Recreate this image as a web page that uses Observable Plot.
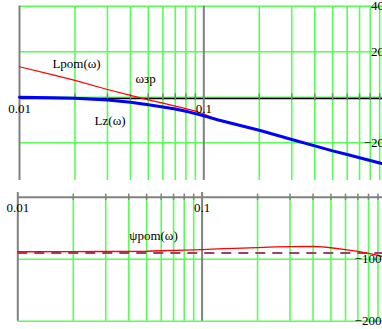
<!DOCTYPE html>
<html>
<head>
<meta charset="utf-8">
<script src="https://cdn.jsdelivr.net/npm/d3@7"></script>
<script src="https://cdn.jsdelivr.net/npm/@observablehq/plot@0.6"></script>
<style>
  html, body { margin: 0; padding: 0; background: white; overflow: hidden; }
  .panel { width: 382px; overflow: hidden; }
  .panel svg { display: block; overflow: hidden; }
</style>
</head>
<body>
<div id="panelTop" class="panel" style="height:190px"></div>
<div id="panelBottom" class="panel" style="height:139px"></div>
<script>
// ---- data ----
const omega = [0.01, 0.015, 0.02, 0.03, 0.04, 0.05, 0.06, 0.07, 0.08, 0.09, 0.1, 0.12, 0.15, 0.2, 0.3, 0.4, 0.5, 0.6, 0.7, 0.8, 0.9, 1.0];
const Lpom  = [13.4, 9.9, 7.4, 3.4, 0.8, -1.2, -2.6, -3.9, -5.0, -6.1, -7.4, -9.9, -12.0, -14.5, -18.6, -21.4, -23.6, -25.2, -26.6, -27.8, -28.9, -29.8];
const Lz    = [0, -0.2, -0.5, -1.2, -2.2, -3.3, -4.3, -5.2, -6.2, -7.2, -8.2, -10.0, -12.0, -14.5, -18.6, -21.4, -23.6, -25.2, -26.6, -27.8, -28.9, -29.8];

const omegaPsi = [0.01, 0.02, 0.03, 0.05, 0.06, 0.08, 0.1, 0.13, 0.15, 0.2, 0.25, 0.3, 0.4, 0.45, 0.5, 0.6, 0.7, 0.8, 0.9, 1.0];
const psiPom   = [-88, -87.8, -87.6, -87.2, -86.4, -85.5, -84.5, -83, -82.4, -81.2, -80.2, -79.6, -79.5, -80, -81.5, -84.5, -87.5, -90.5, -94, -97.5];
const psiRef   = [-90];

const xGrid = [0.02, 0.03, 0.04, 0.05, 0.06, 0.07, 0.08, 0.09, 0.2, 0.3, 0.4, 0.5, 0.6, 0.7, 0.8, 0.9];
const xDecades = [0.01, 0.1];
const xTickLabels = [0.01, 0.1];
const yGridTop = [40, 20, 0, -20];
const yTickLabelsTop = [40, 20, -20];
const yGridBottom = [-100, -200];
const yTickLabelsBottom = [-100, -200];
const curveLabels = ["Lpom(ω)", "ωзр", "Lz(ω)", "ψpom(ω)"];

// ---- build tables ----
const magData = omega.map((w, i) => ({w, Lpom: Lpom[i], Lz: Lz[i]}));
const psiData = omegaPsi.map((w, i) => ({w, psi: psiPom[i]}));

const GREEN = "#55ff55";
const GRAY = "#808080";
const FONT = "Liberation Serif, Times New Roman, serif";
const fmt = d => (d < 0 ? "\u2212" + Math.abs(d) : String(d));

// ---- top panel ----
const chartTop = Plot.plot({
  width: 382, height: 190,
  marginLeft: 0, marginRight: 0, marginTop: 0, marginBottom: 0,
  style: {fontFamily: FONT, fontSize: "13px", background: "white", overflow: "hidden"},
  x: {type: "log", domain: [0.01, 1], range: [19, 387.6], axis: null},
  y: {domain: [-36.6, 40], range: [180, 5.7], axis: null},
  marks: [
    Plot.ruleX(xGrid, {y1: -36.6, y2: 40, stroke: GREEN, strokeWidth: 1.6}),
    Plot.ruleY(yGridTop, {x1: 0.01, x2: 1, stroke: GREEN, strokeWidth: 1.6}),
    Plot.ruleY([0], {x1: 0.01, x2: 1, stroke: "#000", strokeWidth: 1.3, dy: 1.3}),
    Plot.ruleX(xDecades, {y1: -36.6, y2: 40, stroke: GRAY, strokeWidth: 2}),
    Plot.ruleX(xGrid, {y1: -1.45, y2: 1.45, stroke: GRAY, strokeWidth: 1.5}),
    Plot.line(magData, {x: "w", y: "Lpom", stroke: "#ff0000", strokeWidth: 1.2}),
    Plot.line(magData, {x: "w", y: "Lz", stroke: "#0000ff", strokeWidth: 3}),
    Plot.text(xTickLabels, {x: d => d, y: 0, dy: 12, text: d => String(d), fill: "#000", fontSize: 13}),
    Plot.text(yTickLabelsTop, {x: 1, y: d => d, dx: -4, text: fmt, textAnchor: "end", fill: "#000", fontSize: 13}),
    Plot.text([curveLabels[0]], {x: 0.0204, y: 14.8, text: d => d, fill: "#000", fontSize: 13}),
    Plot.text([curveLabels[1]], {x: 0.0483, y: 8.2, text: d => d, fill: "#000", fontSize: 13}),
    Plot.text([curveLabels[2]], {x: 0.031, y: -10.2, text: d => d, fill: "#000", fontSize: 13})
  ]
});
document.getElementById("panelTop").appendChild(chartTop);

// ---- bottom panel ----
const chartBottom = Plot.plot({
  width: 382, height: 139,
  marginLeft: 0, marginRight: 0, marginTop: 0, marginBottom: 0,
  style: {fontFamily: FONT, fontSize: "13px", background: "white", overflow: "hidden"},
  x: {type: "log", domain: [0.01, 1], range: [17.3, 385.9], axis: null},
  y: {domain: [-200, 0], range: [130.7, 6.7], axis: null},
  marks: [
    Plot.ruleX(xGrid, {y1: -200, y2: 0, stroke: GREEN, strokeWidth: 1.6}),
    Plot.ruleY(yGridBottom, {x1: 0.01, x2: 1, stroke: GREEN, strokeWidth: 1.6}),
    Plot.ruleY([0], {x1: 0.01, x2: 1, stroke: GRAY, strokeWidth: 2}),
    Plot.ruleX(xDecades, {y1: -200, y2: 7.5, stroke: GRAY, strokeWidth: 2}),
    Plot.ruleX(xGrid, {y1: -5, y2: 5, stroke: GRAY, strokeWidth: 1.5}),
    Plot.ruleY(psiRef, {x1: 0.01, x2: 1, stroke: "#a0406a", strokeWidth: 2, strokeDasharray: "10,7"}),
    Plot.line(psiData, {x: "w", y: "psi", stroke: "#ff0000", strokeWidth: 1.3}),
    Plot.text(xTickLabels, {x: d => d, y: 0, dy: 10.6, text: d => String(d), fill: "#000", fontSize: 13}),
    Plot.text(yTickLabelsBottom, {x: 1, y: d => d, dx: -5, text: fmt, textAnchor: "end", fill: "#000", fontSize: 13}),
    Plot.text([curveLabels[3]], {x: 0.0545, y: -62.6, text: d => d, fill: "#000", fontSize: 13})
  ]
});
document.getElementById("panelBottom").appendChild(chartBottom);
</script>
</body>
</html>
